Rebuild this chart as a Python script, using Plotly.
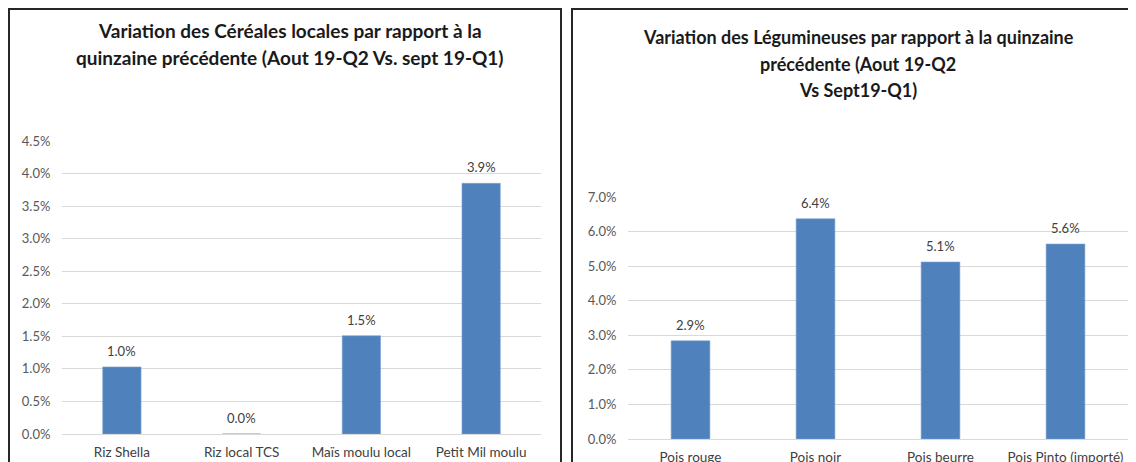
import plotly.graph_objects as go

# page body has an 8px default margin: figure is sized/placed to compensate
OFF = 8
W, H = 1136 - OFF, 462 - OFF

cereales_cats = ["Riz Shella", "Riz local TCS", "Maïs moulu local", "Petit Mil moulu"]
cereales_vals = [0.0103, 0.0, 0.0151, 0.0385]
cereales_labels = ["1.0%", "0.0%", "1.5%", "3.9%"]

legum_cats = ["Pois rouge", "Pois noir", "Pois beurre", "Pois Pinto (importé)"]
legum_vals = [0.0284, 0.0637, 0.0512, 0.0564]
legum_labels = ["2.9%", "6.4%", "5.1%", "5.6%"]

title_left = ["Variation des Céréales locales par rapport à la",
              "quinzaine précédente (Aout 19-Q2 Vs. sept 19-Q1)"]
title_right = ["Variation des Légumineuses par rapport à la quinzaine",
               "précédente (Aout 19-Q2",
               "Vs Sept19-Q1)"]

BAR = "#4f81bd"
FONT = "Lato, 'Open Sans', sans-serif"


def px(x):
    return (x - OFF) / W


def py(y):
    return 1 - (y - OFF) / H


fig = go.Figure()
fig.add_trace(go.Bar(x=cereales_cats, y=cereales_vals,
                     marker=dict(color=BAR, line=dict(color="#7fa3d0", width=0.6)),
                     width=0.32, xaxis="x", yaxis="y", hoverinfo="skip"))
fig.add_trace(go.Bar(x=legum_cats, y=legum_vals,
                     marker=dict(color=BAR, line=dict(color="#7fa3d0", width=0.6)),
                     width=0.31, xaxis="x2", yaxis="y2", hoverinfo="skip"))

common_y = dict(showgrid=True, gridcolor="#d9d9d9", gridwidth=1, zeroline=True,
                zerolinecolor="#d9d9d9", zerolinewidth=1, showline=False,
                tickformat=".1%", ticks="outside", ticklen=8, automargin=False,
                tickcolor="rgba(0,0,0,0)",
                tickfont=dict(size=13, color="#595959", family=FONT))
common_x = dict(showgrid=False, zeroline=False, showline=False, automargin=False,
                ticks="outside", ticklen=6, tickcolor="rgba(0,0,0,0)",
                tickfont=dict(size=13.5, color="#404040", family=FONT))

annots = []
for txt, yy in zip(title_left, [31, 58]):
    annots.append(dict(text="<b>" + txt + "</b>", x=px(290), y=py(yy),
                       xref="paper", yref="paper", showarrow=False,
                       xanchor="center", yanchor="middle",
                       font=dict(size=19, color="#1a1a1a", family=FONT)))
for txt, yy in zip(title_right, [37, 64, 90]):
    annots.append(dict(text="<b>" + txt + "</b>", x=px(858), y=py(yy),
                       xref="paper", yref="paper", showarrow=False,
                       xanchor="center", yanchor="middle",
                       font=dict(size=18, color="#1a1a1a", family=FONT)))
# data labels above bars
for cats, vals, labs, xr, yr in [(cereales_cats, cereales_vals, cereales_labels, "x", "y"),
                                 (legum_cats, legum_vals, legum_labels, "x2", "y2")]:
    for c, v, t in zip(cats, vals, labs):
        annots.append(dict(text=t, x=c, y=v, xref=xr, yref=yr, showarrow=False,
                           xanchor="center", yanchor="middle", yshift=16,
                           font=dict(size=13, color="#404040", family=FONT)))

fig.update_layout(
    template="none",
    width=W, height=H,
    margin=dict(l=0, r=0, t=0, b=0, autoexpand=False),
    paper_bgcolor="white", plot_bgcolor="white",
    showlegend=False,
    font=dict(family=FONT),
    xaxis=dict(domain=[px(62), px(541)], anchor="y", **common_x),
    yaxis=dict(domain=[py(434), py(141)], anchor="x", range=[0, 0.045],
               dtick=0.005, **common_y),
    xaxis2=dict(domain=[px(628), px(1128)], anchor="y2", **common_x),
    yaxis2=dict(domain=[py(439), py(197)], anchor="x2", range=[0, 0.07],
                dtick=0.01, **common_y),
    annotations=annots,
    shapes=[
        dict(type="rect", xref="paper", yref="paper",
             x0=px(9), x1=px(561), y0=py(475), y1=py(9),
             line=dict(color="#262626", width=2)),
        dict(type="rect", xref="paper", yref="paper",
             x0=px(572), x1=px(1150), y0=py(475), y1=py(9),
             line=dict(color="#262626", width=2)),
    ],
)

fig.write_html("out.html")
